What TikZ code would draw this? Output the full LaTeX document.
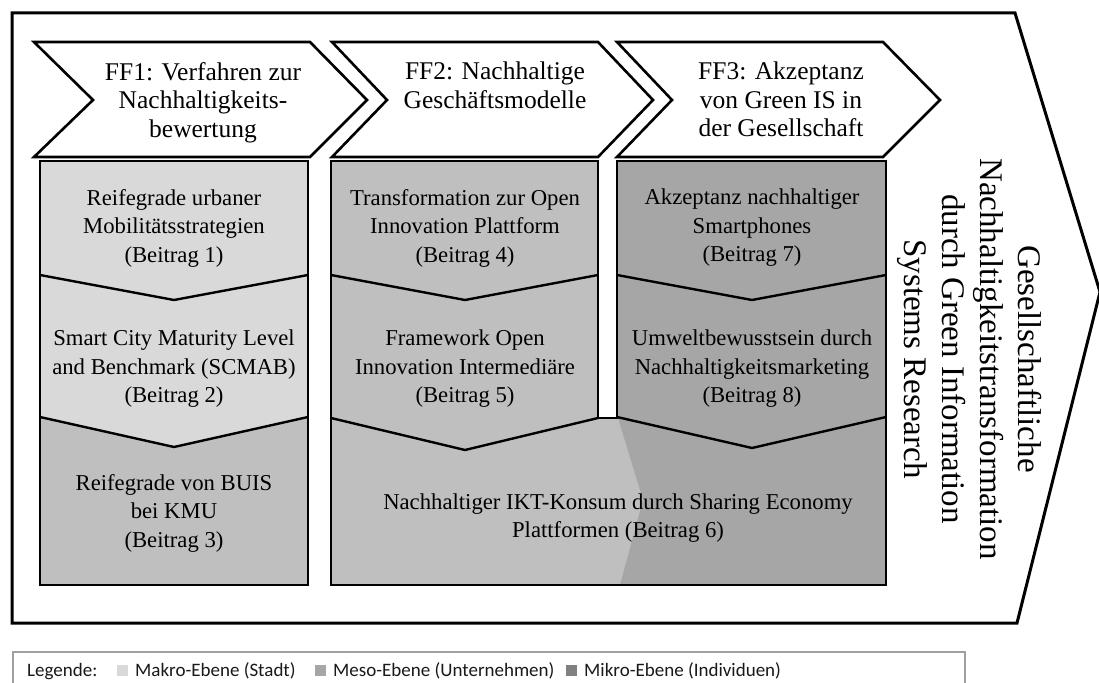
\documentclass[tikz,border=0pt]{standalone}
\usepackage{fontspec}
\setmainfont{Liberation Serif}
\newfontfamily\legfont{Carlito}
\definecolor{makro}{HTML}{D9D9D9}
\definecolor{meso}{HTML}{BFBFBF}
\definecolor{mikro}{HTML}{A6A6A6}
\definecolor{legmeso}{HTML}{A6A6A6}
\definecolor{legmikro}{HTML}{808080}
\definecolor{leggray}{HTML}{A0A0A0}
\begin{document}
\begin{tikzpicture}[x=1pt,y=-1pt,line join=miter,
  outline/.style={draw=black,line width=2.8pt},
  divider/.style={draw=black,line width=2.4pt},
  chev/.style={draw=black,fill=white,line width=2.6pt},
  head/.style={anchor=north,inner sep=0pt,align=center,font=\fontsize{25.5}{28.5}\selectfont},
  boxtext/.style={inner sep=0pt,align=center,font=\fontsize{22.7}{28.5}\selectfont},
  legtext/.style={anchor=base west,inner sep=0pt,text=black!90,font=\legfont\fontsize{19}{22}\selectfont},
  legsq/.style={draw=none,minimum size=11pt,inner sep=0pt,anchor=south west}]

\useasboundingbox (0,0) rectangle (1099,682);
\fill[white] (0,0) rectangle (1099,682);

% outer arrow
\draw[outline,fill=white,line width=3pt] (12,13) -- (1015,13) -- (1100,292) -- (1017,623) -- (12,623) -- cycle;

% header chevrons
\draw[chev] (34,42) -- (310,42) -- (367,100) -- (310,157) -- (34,157) -- (93,100) -- cycle;
\draw[chev] (332,42) -- (598,42) -- (653,100) -- (598,157) -- (332,157) -- (387,100) -- cycle;
\draw[chev] (617,42) -- (883,42) -- (940,100) -- (883,157) -- (617,157) -- (672,100) -- cycle;

\node[head] (ff1) at (203,62) {FF1: Verfahren zur\\Nachhaltigkeits-\\bewertung};
\node[head] (ff2) at (495,62) {FF2: Nachhaltige\\Geschäftsmodelle};
\node[head] (ff3) at (781,62) {FF3: Akzeptanz\\von Green IS in\\der Gesellschaft};

% column 1 fills
\fill[makro] (40,161) -- (308,161) -- (308,275) -- (174,300) -- (40,275) -- cycle;
\fill[makro] (40,275) -- (174,300) -- (308,275) -- (308,417) -- (174,447) -- (40,417) -- cycle;
\fill[meso] (40,417) -- (174,447) -- (308,417) -- (308,585) -- (40,585) -- cycle;
% column 2 fills
\fill[meso] (331,161) -- (598,161) -- (598,418) -- (465,450) -- (331,418) -- cycle;
% column 3 fills
\fill[mikro] (617,161) -- (886,161) -- (886,417) -- (752,448) -- (617,418) -- cycle;
% box 6 fills
\fill[meso] (331,418) -- (465,450) -- (598,418) -- (617,418) -- (752,448) -- (886,417) -- (886,585) -- (331,585) -- cycle;
\fill[mikro] (618,418) -- (752,448) -- (886,417) -- (886,585) -- (620,585) -- (643,500) -- cycle;

% outlines
\draw[outline] (40,161) rectangle (308,585);
\draw[outline] (331,161) -- (598,161) -- (598,418) -- (617,418) -- (617,161) -- (886,161) -- (886,585) -- (331,585) -- cycle;
% dividers
\draw[divider] (40,275) -- (174,300) -- (308,275);
\draw[divider] (40,417) -- (174,447) -- (308,417);
\draw[divider] (331,275) -- (465,300) -- (598,275);
\draw[divider] (331,418) -- (465,450) -- (598,418);
\draw[divider] (617,275) -- (752,300) -- (886,275);
\draw[divider] (617,417) -- (752,448) -- (886,417);

% box texts
\node[boxtext] (b1) at (174,228) {Reifegrade urbaner\\Mobilitätsstrategien\\(Beitrag 1)};
\node[boxtext] (b2) at (174,369) {Smart City Maturity Level\\and Benchmark (SCMAB)\\(Beitrag 2)};
\node[boxtext] (b3) at (174,513) {Reifegrade von BUIS\\bei KMU\\(Beitrag 3)};
\node[boxtext] (b4) at (465,228) {Transformation zur Open\\Innovation Plattform\\(Beitrag 4)};
\node[boxtext] (b5) at (465,369) {Framework Open\\Innovation Intermediäre\\(Beitrag 5)};
\node[boxtext] (b6) at (618,518) {Nachhaltiger IKT-Konsum durch Sharing Economy\\Plattformen (Beitrag 6)};
\node[boxtext] (b7) at (752,228) {Akzeptanz nachhaltiger\\Smartphones\\(Beitrag 7)};
\node[boxtext] (b8) at (752,369) {Umweltbewusstsein durch\\Nachhaltigkeitsmarketing\\(Beitrag 8)};

% vertical goal text
\node[anchor=north,rotate=-90,inner sep=0pt,align=center,font=\fontsize{33}{38}\selectfont] (ziel) at (1042,359) {Gesellschaftliche\\Nachhaltigkeitstransformation\\durch Green Information\\Systems Research};

% legend
\draw[draw=leggray,line width=1.2pt] (13,652) rectangle (965,700);
\node[legtext] (leg) at (27,676) {Legende:};
\node[legsq,fill=makro] (sq1) at (117,676) {};
\node[legtext] (l1) at (135,676) {Makro-Ebene (Stadt)};
\node[legsq,fill=legmeso] (sq2) at (315,676) {};
\node[legtext] (l2) at (333,676) {Meso-Ebene (Unternehmen)};
\node[legsq,fill=legmikro] (sq3) at (566,676) {};
\node[legtext] (l3) at (584,676) {Mikro-Ebene (Individuen)};
\end{tikzpicture}
\end{document}
